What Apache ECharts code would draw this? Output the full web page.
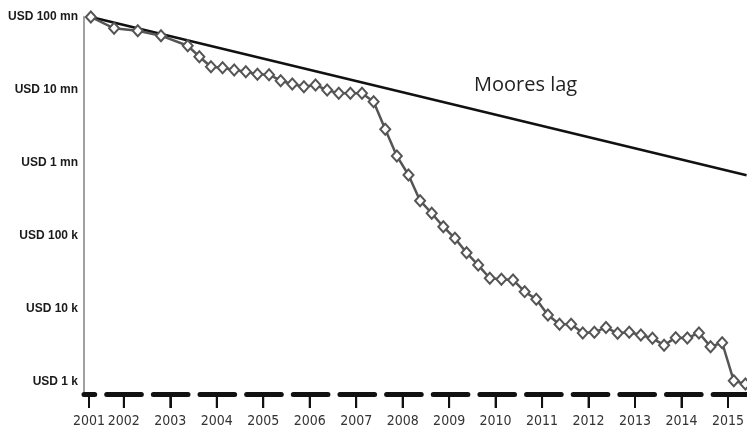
<!DOCTYPE html>
<html>
<head>
<meta charset="utf-8">
<script src="https://cdn.jsdelivr.net/npm/echarts@6/dist/echarts.min.js"></script>
<style>
  html, body { margin: 0; padding: 0; background: #ffffff; }
  #chart { width: 747px; height: 430px; }
</style>
</head>
<body>
<div id="chart"></div>
<script>
// ---- Data ----
const dates = [
  2001.79, 2002.29, 2002.80, 2003.30,
  2003.875, 2004.125, 2004.375, 2004.625, 2004.875, 2005.125, 2005.375, 2005.625,
  2005.875, 2006.125, 2006.375, 2006.625, 2006.875, 2007.125, 2007.375, 2007.625,
  2007.875, 2008.125, 2008.375, 2008.625, 2008.875, 2009.125, 2009.375, 2009.625,
  2009.875, 2010.125, 2010.375, 2010.625, 2010.875, 2011.125, 2011.375, 2011.625,
  2011.875, 2012.125, 2012.375, 2012.625, 2012.875, 2013.125, 2013.375, 2013.625,
  2013.875, 2014.125, 2014.375, 2014.625, 2014.875, 2015.125, 2015.375, 2015.625,
  2015.875
];
const costs = [
  100e6, 70e6, 65e6, 55.5e6,
  40.4e6, 28.6e6, 20.8e6, 20.2e6, 18.8e6, 17.8e6, 16.4e6, 16.2e6,
  13.4e6, 12.1e6, 11.1e6, 11.7e6, 10.0e6, 9.0e6, 9.0e6, 9.0e6,
  6.9e6, 2.9e6, 1.25e6, 685e3, 305e3, 205e3, 134e3, 93e3,
  59e3, 40e3, 26.4e3, 25.5e3, 25e3, 17.3e3, 13.6e3, 8.3e3,
  6.2e3, 6.2e3, 4.7e3, 4.8e3, 5.6e3, 4.65e3, 4.8e3, 4.4e3,
  3.97e3, 3.2e3, 4.05e3, 4.0e3, 4.7e3, 3.05e3, 3.45e3, 1.04e3,
  940
];
const mooreDates = [2001.79, 2015.9];
const mooreCosts = [100e6, 680e3];
const mooreLabel = 'Moores lag';

const yearLabels = ['2001','2002','2003','2004','2005','2006','2007','2008','2009','2010','2011','2012','2013','2014','2015'];
const yearTickValues = [2001.75, 2002.5, 2003.5, 2004.5, 2005.5, 2006.5, 2007.5, 2008.5, 2009.5, 2010.5, 2011.5, 2012.5, 2013.5, 2014.5, 2015.5];
const yTickValues = [1e3, 1e4, 1e5, 1e6, 1e7, 1e8];
const yTickLabels = ['USD 1 k', 'USD 10 k', 'USD 100 k', 'USD 1 mn', 'USD 10 mn', 'USD 100 mn'];

// ---- Chart ----
const chart = echarts.init(document.getElementById('chart'), null, { renderer: 'canvas' });

const Y_MIN = 730;
const X_MIN = 2001.643;
const X_MAX = 2015.9;
const seqData = dates.map((d, i) => [d, costs[i]]);
const mooreData = mooreDates.map((d, i) => [d, mooreCosts[i]]);

const option = {
  animation: false,
  backgroundColor: '#ffffff',
  grid: { left: 84, top: 17, right: -2, bottom: 38, containLabel: false },
  xAxis: {
    type: 'value',
    min: X_MIN,
    max: X_MAX,
    splitLine: { show: false },
    axisLine: {
      show: true,
      onZero: false,
      lineStyle: { color: '#111111', width: 5, type: [34.65, 12], dashOffset: 23.95 }
    },
    offset: 2,
    axisTick: {
      show: true,
      customValues: yearTickValues.slice(),
      length: 14,
      lineStyle: { color: '#111111', width: 2 }
    },
    axisLabel: {
      customValues: yearTickValues.slice(),
      formatter: function (v) {
        const idx = yearTickValues.findIndex(t => Math.abs(t - v) < 1e-6);
        return idx >= 0 ? yearLabels[idx] : '';
      },
      margin: 20,
      fontSize: 14,
      fontFamily: "'Liberation Sans Narrow', 'DejaVu Sans Condensed', sans-serif",
      color: '#333333'
    }
  },
  yAxis: {
    type: 'log',
    logBase: 10,
    min: Y_MIN,
    max: 1e8,
    splitLine: { show: false },
    axisLine: { show: true, lineStyle: { color: '#a0a0a0', width: 2 } },
    axisTick: { show: false },
    axisLabel: {
      customValues: yTickValues.slice(),
      formatter: function (v) {
        const idx = yTickValues.findIndex(t => Math.abs(Math.log10(t) - Math.log10(v)) < 1e-6);
        return idx >= 0 ? yTickLabels[idx] : '';
      },
      margin: 6,
      fontSize: 12,
      fontWeight: 'bold',
      fontFamily: "'Liberation Sans', Arial, sans-serif",
      color: '#1a1a1a'
    }
  },
  series: [
    {
      name: mooreLabel,
      type: 'line',
      data: mooreData,
      showSymbol: false,
      symbol: 'none',
      lineStyle: { color: '#111111', width: 2.5 },
      z: 2,
      silent: true
    },
    {
      name: 'Cost',
      type: 'line',
      data: seqData,
      symbol: 'diamond',
      symbolSize: [10, 11],
      showAllSymbol: true,
      lineStyle: { color: '#555555', width: 2.5 },
      itemStyle: { color: '#ffffff', borderColor: '#555555', borderWidth: 2 },
      z: 3,
      clip: false,
      silent: true
    }
  ]
};

chart.setOption(option);

// Year tick marks, positioned through the chart's own x scale, on a top layer
let axisY = chart.convertToPixel({ yAxisIndex: 0 }, Y_MIN);
if (!isFinite(axisY)) { axisY = chart.getHeight() - 38; }
const tickGraphics = yearTickValues.map(function (v) {
  let px = chart.convertToPixel({ xAxisIndex: 0 }, v);
  if (Array.isArray(px)) { px = px[0]; }
  return {
    type: 'rect',
    shape: { x: px - 1, y: axisY + 2, width: 2, height: 14 },
    style: { fill: '#111111' },
    zlevel: 5,
    z: 100,
    silent: true
  };
});

chart.setOption({
  graphic: tickGraphics.concat([
    {
      type: 'text',
      left: 474,
      top: 75,
      style: {
        text: mooreLabel,
        fontSize: 20,
        fontFamily: "'Open Sans', sans-serif",
        fill: '#222222'
      }
    }
  ])
});
</script>
</body>
</html>
